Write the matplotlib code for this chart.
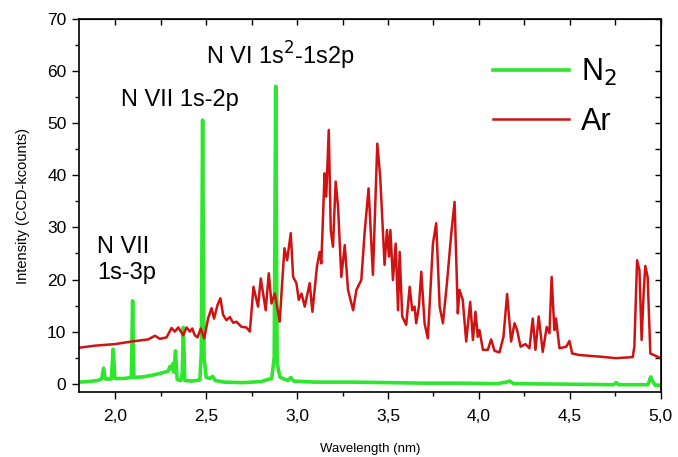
import numpy as np
import matplotlib
matplotlib.use("Agg")
import matplotlib.pyplot as plt
from matplotlib.ticker import MultipleLocator, FuncFormatter

plt.rcParams["font.family"] = ["Liberation Sans", "DejaVu Sans"]

# N2 spectrum (wavelength in nm, intensity in CCD-kcounts)
n2_wl = [1.80, 1.85, 1.90, 1.925, 1.935, 1.945, 1.978, 1.988, 1.998, 2.05, 2.088,
         2.095, 2.102, 2.15, 2.20, 2.25, 2.29, 2.30, 2.31, 2.315, 2.322, 2.331,
         2.340, 2.36, 2.368, 2.374, 2.382, 2.42, 2.465, 2.473, 2.480, 2.488,
         2.50, 2.52, 2.535, 2.55, 2.60, 2.70, 2.80, 2.86, 2.874, 2.882, 2.890,
         2.905, 2.92, 2.95, 2.965, 2.98, 3.10, 3.30, 3.50, 3.70, 3.90, 4.10,
         4.15, 4.17, 4.19, 4.50, 4.74, 4.755, 4.77, 4.93, 4.945, 4.955, 4.97, 5.00]
n2_int = [0.3, 0.4, 0.6, 0.9, 3.0, 0.9, 0.9, 6.6, 1.0, 1.0, 1.2,
          15.9, 1.2, 1.3, 1.6, 2.0, 2.4, 3.3, 2.8, 3.8, 2.2, 6.3,
          0.8, 0.6, 2.0, 10.8, 0.6, 0.5, 0.7, 6.0, 50.6, 5.0,
          1.2, 1.0, 1.4, 0.6, 0.3, 0.2, 0.4, 1.0, 5.0, 57.1, 4.0,
          1.3, 1.0, 0.6, 1.2, 0.5, 0.3, 0.3, 0.2, 0.1, 0.1, 0.0,
          0.3, 0.5, 0.0, -0.1, -0.2, 0.2, -0.2, -0.2, 1.3, 0.5, -0.3, -0.4]

# Ar spectrum
ar_wl = [1.80, 1.888, 1.998, 2.09, 2.181, 2.218, 2.245, 2.282, 2.309, 2.327,
         2.346, 2.373, 2.392, 2.41, 2.423, 2.437, 2.452, 2.47, 2.489, 2.51,
         2.529, 2.543, 2.562, 2.578, 2.593, 2.611, 2.63, 2.648, 2.666, 2.694,
         2.721, 2.74, 2.76, 2.785, 2.80, 2.827, 2.844, 2.859, 2.877, 2.904,
         2.93, 2.945, 2.965, 2.978, 2.996, 3.009, 3.024, 3.042, 3.069, 3.084,
         3.109, 3.124, 3.133, 3.151, 3.16, 3.174, 3.185, 3.197, 3.212, 3.225,
         3.243, 3.262, 3.28, 3.308, 3.326, 3.353, 3.371, 3.393, 3.417, 3.441,
         3.457, 3.481, 3.494, 3.505, 3.513, 3.527, 3.542, 3.555, 3.564, 3.578,
         3.60, 3.619, 3.633, 3.646, 3.655, 3.67, 3.683, 3.701, 3.719, 3.747,
         3.765, 3.784, 3.802, 3.824, 3.848, 3.866, 3.884, 3.893, 3.911, 3.93,
         3.952, 3.967, 3.981, 3.994, 4.003, 4.022, 4.049, 4.067, 4.086, 4.113,
         4.135, 4.155, 4.177, 4.196, 4.21, 4.229, 4.256, 4.278, 4.296, 4.311,
         4.329, 4.351, 4.373, 4.388, 4.40, 4.415, 4.424, 4.443, 4.48, 4.498,
         4.513, 4.553, 4.663, 4.754, 4.846, 4.855, 4.87, 4.883, 4.895, 4.906,
         4.915, 4.928, 4.943, 5.00]
ar_int = [6.9, 7.3, 7.6, 8.1, 8.5, 9.2, 8.6, 8.9, 10.7, 10.0,
          10.8, 9.3, 10.8, 10.0, 10.6, 9.3, 8.9, 10.6, 8.7, 12.5,
          14.5, 12.5, 15.1, 16.4, 13.2, 12.2, 12.8, 11.7, 11.9, 10.9,
          10.8, 10.0, 18.6, 14.8, 20.2, 14.1, 21.2, 15.4, 17.3, 11.9,
          26.0, 23.7, 28.9, 20.5, 19.3, 16.1, 17.3, 14.8, 19.3, 13.8,
          22.5, 25.3, 23.1, 40.4, 35.9, 48.7, 29.5, 26.3, 38.8, 34.0,
          20.5, 26.6, 18.0, 14.1, 18.0, 19.9, 28.9, 37.5, 20.9, 46.1,
          39.7, 22.8, 29.5, 24.4, 29.5, 19.9, 26.9, 14.1, 25.3, 12.9,
          11.3, 18.6, 14.1, 14.8, 11.6, 14.8, 21.5, 11.6, 8.7, 26.9,
          30.8, 14.8, 11.6, 19.3, 28.9, 34.9, 13.5, 18.0, 16.1, 8.1,
          15.7, 8.4, 13.8, 9.0, 10.3, 6.5, 6.5, 8.5, 6.3, 6.0,
          9.0, 17.2, 8.1, 11.6, 10.3, 7.1, 7.6, 6.8, 12.5, 6.5,
          12.9, 6.1, 10.9, 9.7, 20.5, 10.3, 12.5, 6.8, 7.1, 8.2,
          5.8, 5.5, 5.2, 4.9, 5.1, 7.1, 23.7, 21.8, 8.4, 17.3,
          22.6, 20.5, 5.8, 4.9]

N2_COLOR = "#2fe62f"
AR_COLOR = "#cf1212"

fig = plt.figure(figsize=(6.78, 4.57), dpi=100)
ax = fig.add_axes([0.1165, 0.1422, 0.858, 0.816])

ax.plot(n2_wl, n2_int, color=N2_COLOR, lw=2.6, label="N$_2$", zorder=2)
ax.plot(ar_wl, ar_int, color=AR_COLOR, lw=1.8, label="Ar", zorder=3)

ax.set_xlim(1.8, 5.0)
ax.set_ylim(-1.6, 70)

ax.xaxis.set_major_locator(MultipleLocator(0.5))
ax.xaxis.set_minor_locator(MultipleLocator(0.25))
ax.xaxis.set_major_formatter(FuncFormatter(lambda v, p: f"{v:.1f}".replace(".", ",")))
ax.yaxis.set_major_locator(MultipleLocator(10))
ax.yaxis.set_minor_locator(MultipleLocator(5))

ax.tick_params(which="both", direction="out", labelsize=12.5, width=1.0, pad=4)
ax.tick_params(axis="x", pad=7)
ax.tick_params(which="major", length=5)
ax.tick_params(which="minor", length=3)

# mirrored ticks pointing inward on the top and right
top = ax.secondary_xaxis("top")
top.xaxis.set_major_locator(MultipleLocator(0.25))
top.tick_params(direction="in", length=4, width=1.0, labeltop=False)
right = ax.secondary_yaxis("right")
right.yaxis.set_major_locator(MultipleLocator(5))
right.tick_params(direction="in", length=4, width=1.0, labelright=False)

for s in ax.spines.values():
    s.set_visible(True)
    s.set_color("black")
    s.set_linewidth(1.2)
    s.set_zorder(5)

ax.set_xlabel("Wavelength (nm)", fontsize=9.5, labelpad=14)
ax.set_ylabel("Intensity (CCD-kcounts)", fontsize=10.5, labelpad=12)

ax.text(2.50, 62.9, "N VI 1s$^2$-1s2p", fontsize=17, va="center", ha="left")
ax.text(2.03, 54.5, "N VII 1s-2p", fontsize=17, va="center", ha="left")
ax.text(1.90, 23.7, "N VII\n1s-3p", fontsize=17, va="center", ha="left", linespacing=1.25)

ax.legend(loc="upper left", bbox_to_anchor=(0.711, 0.898), frameon=False,
          fontsize=22, handlelength=2.5, handletextpad=0.4, labelspacing=0.6,
          borderaxespad=0, borderpad=0)

fig.savefig("out.png", dpi=100)
